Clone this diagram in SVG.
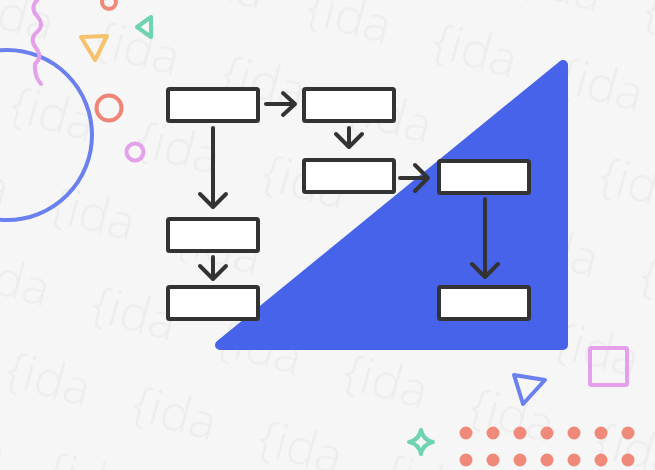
<svg xmlns="http://www.w3.org/2000/svg" width="655" height="470" viewBox="0 0 655 470">
<style>
.wm{font-family:"Open Sans","DejaVu Sans",sans-serif;font-weight:300;font-size:50px;fill:#ededed}
.box{fill:#ffffff;stroke:#333333;stroke-width:4;}
.con{fill:none;stroke:#333333;stroke-width:4;stroke-linecap:round;stroke-linejoin:round}
.deco{fill:none;stroke-width:4;stroke-linecap:round;stroke-linejoin:round}
.dot{fill:#ef8a7a}
</style>
<defs>
<pattern id="wm" patternUnits="userSpaceOnUse" width="130.5" height="171.4" patternTransform="rotate(15.1)">
<text class="wm" x="103.2" y="28.1">{ida</text>
<text class="wm" x="-27.3" y="28.1">{ida</text>
<text class="wm" x="103.2" y="199.5">{ida</text>
<text class="wm" x="-27.3" y="199.5">{ida</text>
<text class="wm" x="37.95" y="113.8">{ida</text>
</pattern>
</defs>
<rect width="655" height="470" fill="#f6f6f6"/>
<rect width="655" height="470" fill="url(#wm)"/>

<g id="decorations">
<circle cx="7" cy="135" r="85" class="deco" stroke="#6a80ef"/>
<path d="M39,-2 Q29,7 37,16 T37,32 T36,48 T35,64 Q34,76 41,84" class="deco" stroke="#e5a0ec"/>
<circle cx="109" cy="2" r="7" class="deco" stroke="#ef8a78"/>
<path d="M137,27 L151,17 L151,37 Z" class="deco" stroke="#6dd3b0"/>
<path d="M81,37 L107,36 L95,60 Z" class="deco" stroke="#f5c26b"/>
<circle cx="109" cy="108" r="12.5" class="deco" stroke="#ef8577"/>
<circle cx="135" cy="152" r="8.5" class="deco" stroke="#e5a0ec" stroke-width="3.5"/>
<path d="M563,65 L563,345 L220,345 Z" fill="#4663ea" stroke="#4663ea" stroke-width="10" stroke-linejoin="round"/>
<path d="M514,375 L545,380 L523,404 Z" class="deco" stroke="#6a80ef"/>
<rect x="590" y="348" width="37" height="37" rx="1.5" class="deco" stroke="#e5a0ec"/>
<path d="M421,430 Q423,440 433,442 Q423,444 421,454 Q419,444 409,442 Q419,440 421,430 Z" class="deco" stroke="#6dd3b0"/>
<g>
<circle class="dot" cx="466" cy="433" r="6.5"/><circle class="dot" cx="493" cy="433" r="6.5"/><circle class="dot" cx="520" cy="433" r="6.5"/><circle class="dot" cx="547" cy="433" r="6.5"/><circle class="dot" cx="574" cy="433" r="6.5"/><circle class="dot" cx="601" cy="433" r="6.5"/><circle class="dot" cx="628" cy="433" r="6.5"/>
<circle class="dot" cx="466" cy="460" r="6.5"/><circle class="dot" cx="493" cy="460" r="6.5"/><circle class="dot" cx="520" cy="460" r="6.5"/><circle class="dot" cx="547" cy="460" r="6.5"/><circle class="dot" cx="574" cy="460" r="6.5"/><circle class="dot" cx="601" cy="460" r="6.5"/><circle class="dot" cx="628" cy="460" r="6.5"/>
</g>
</g>

<g id="connectors">
<path class="con" d="M266,104 H294 M283,93 L295,104 L283,115"/>
<path class="con" d="M349,128 V147 M336,134 L349,147 L362,134"/>
<path class="con" d="M213,128 V207 M200,194 L213,207 L226,194"/>
<path class="con" d="M213,257 V279 M200,266 L213,279 L226,266"/>
<path class="con" d="M400,178 H428 M415,165 L428,178 L415,191"/>
<path class="con" d="M485,199 V277 M472,264 L485,277 L498,264"/>
</g>

<g id="node1"><rect class="box" x="168" y="89" width="90" height="32" rx="1.5"/></g>
<g id="node2"><rect class="box" x="304" y="89" width="90" height="32" rx="1.5"/></g>
<g id="node3"><rect class="box" x="304" y="160" width="90" height="32" rx="1.5"/></g>
<g id="node4"><rect class="box" x="168" y="219" width="90" height="32" rx="1.5"/></g>
<g id="node5"><rect class="box" x="168" y="287" width="90" height="32" rx="1.5"/></g>
<g id="node6"><rect class="box" x="439" y="161" width="90" height="32" rx="1.5"/></g>
<g id="node7"><rect class="box" x="439" y="287" width="90" height="32" rx="1.5"/></g>
</svg>
